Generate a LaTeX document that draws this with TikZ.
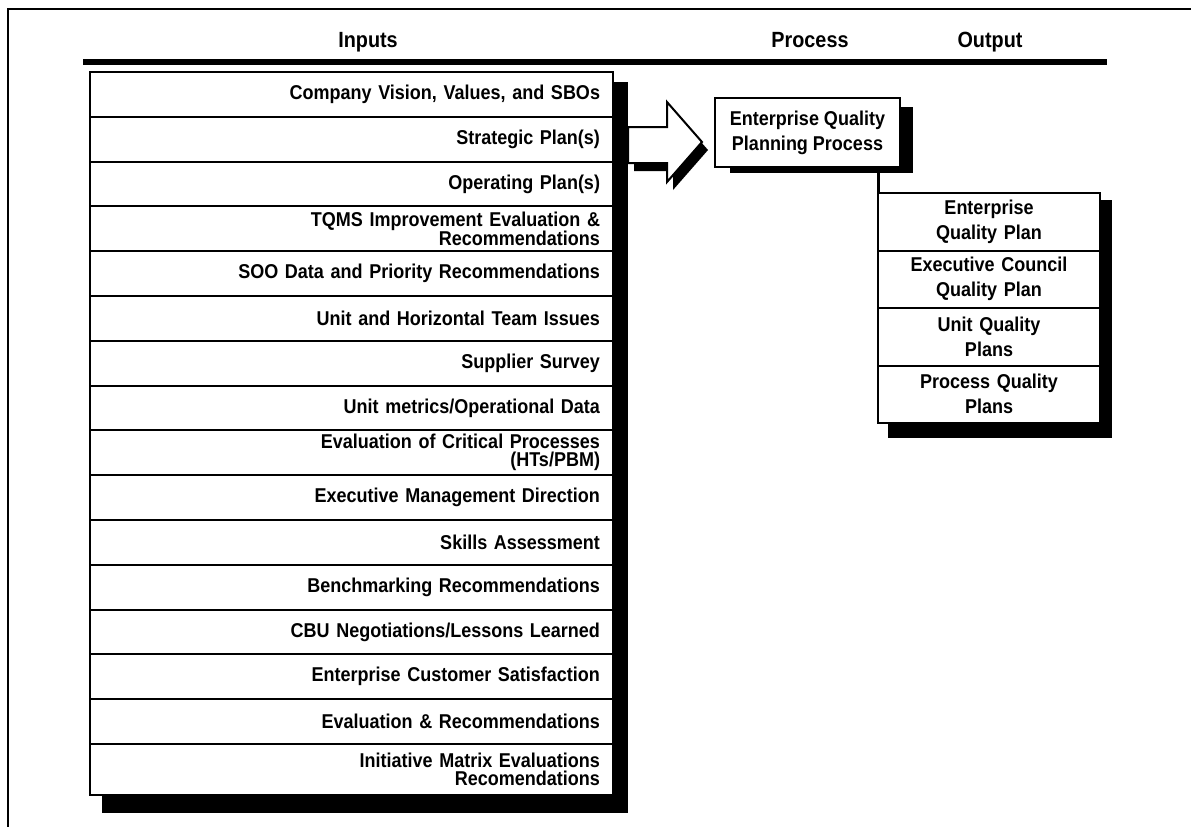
\documentclass[tikz,border=0pt]{standalone}
\usepackage{fontspec}
\setmainfont{Liberation Sans}[FakeStretch=0.9]
\usepackage{tikz}
\usetikzlibrary{positioning, backgrounds}
\tikzstyle{entree} = [rectangle, draw=black, line width=2pt, fill=white, outer sep=0pt, inner xsep=13pt, inner ysep=0pt, minimum height=44.8pt, text width=497pt, align=right, font=\bfseries\fontsize{20}{18}\selectfont]
\tikzstyle{sortie} = [rectangle, draw=black, line width=2pt, fill=white, outer sep=0pt, inner sep=0pt, minimum height=57.5pt, minimum width=222pt, text width=210pt, align=center, font=\bfseries\fontsize{20}{25}\selectfont]
\tikzstyle{processus} = [rectangle, draw=black, line width=2pt, fill=white, outer sep=0pt, minimum height=69pt, minimum width=185pt, align=center, font=\bfseries\fontsize{20}{25}\selectfont]
\tikzstyle{titre} = [anchor=base, inner sep=0pt, font=\bfseries\fontsize{22}{24}\selectfont]
\tikzstyle{ombre} = [fill=black]

\begin{document}
\begin{tikzpicture}[x=1pt, y=-1pt]
    \useasboundingbox (0,0) rectangle (1191,827);

    %% cadre
    \draw[line width=1.5pt] (1191,9) -- (8,9) -- (8,827);

    %% titres
    \node (inputs) [titre] at (368,47) {Inputs};
    \node (process_t) [titre] at (810,47) {Process};
    \node (output_t) [titre] at (990,47) {Output};
    \draw[line width=6pt] (83,62) -- (1107,62);

    %% entrees
    \node (vision) [entree, anchor=north west] at (90,72) {Company Vision, Values, and SBOs};
    \node (strategic) [entree, below=0pt of vision] {Strategic Plan(s)};
    \node (operating) [entree, below=0pt of strategic] {Operating Plan(s)};
    \node (tqms) [entree, below=0pt of operating] {TQMS Improvement Evaluation \& \\ Recommendations};
    \node (soo) [entree, below=0pt of tqms] {SOO Data and Priority Recommendations};
    \node (unitteam) [entree, below=0pt of soo] {Unit and Horizontal Team Issues};
    \node (supplier) [entree, below=0pt of unitteam] {Supplier Survey};
    \node (metrics) [entree, below=0pt of supplier] {Unit metrics/Operational Data};
    \node (critical) [entree, below=0pt of metrics] {Evaluation of Critical Processes \\ (HTs/PBM)};
    \node (direction) [entree, below=0pt of critical] {Executive Management Direction};
    \node (skills) [entree, below=0pt of direction] {Skills Assessment};
    \node (benchmark) [entree, below=0pt of skills] {Benchmarking Recommendations};
    \node (cbu) [entree, below=0pt of benchmark] {CBU Negotiations/Lessons Learned};
    \node (satisfaction) [entree, below=0pt of cbu] {Enterprise Customer Satisfaction};
    \node (evalreco) [entree, below=0pt of satisfaction] {Evaluation \& Recommendations};
    \node (initiative) [entree, below=0pt of evalreco, minimum height=51pt] {Initiative Matrix Evaluations \\ Recomendations};
    \begin{scope}[on background layer]
        \fill[ombre] ([shift={(12,10)}]vision.north west) rectangle ([shift={(15,18)}]initiative.south east);
    \end{scope}

    %% fleche
    \fill[ombre] (634,135) -- (673,135) -- (673,110) -- (708,150) -- (673,190) -- (673,171) -- (634,171) -- cycle;
    \filldraw[fill=white, line width=2pt] (628,127) -- (667,127) -- (667,102) -- (702,142) -- (667,182) -- (667,163) -- (628,163) -- cycle;

    %% processus
    \node (process) [processus, anchor=north west] at (715,98) {Enterprise Quality \\ Planning Process};
    \begin{scope}[on background layer]
        \fill[ombre] ([shift={(15,9)}]process.north west) rectangle ([shift={(13,6)}]process.south east);
    \end{scope}

    %% sorties
    \node (eqp) [sortie, anchor=north west] at (878,193) {Enterprise \\ Quality Plan};
    \node (ecqp) [sortie, below=0pt of eqp] {Executive Council \\ Quality Plan};
    \node (uqp) [sortie, below=0pt of ecqp] {Unit Quality \\ Plans};
    \node (pqp) [sortie, below=0pt of uqp] {Process Quality \\ Plans};
    \begin{scope}[on background layer]
        \fill[ombre] ([shift={(10,7)}]eqp.north west) rectangle ([shift={(12,15)}]pqp.south east);
    \end{scope}
    \draw[line width=3pt] (eqp.north west |- process.south) -- (eqp.north west);
\end{tikzpicture}
\end{document}
